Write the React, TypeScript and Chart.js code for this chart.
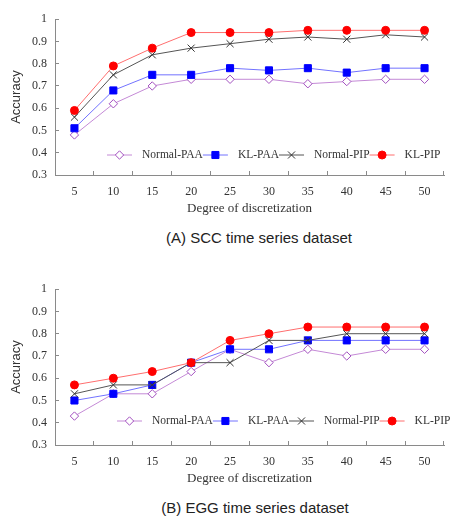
import React, { useEffect, useRef } from 'react';
import { Chart, registerables } from 'chart.js';
import { drawPoint } from 'chart.js/helpers';

Chart.register(...registerables);

const categories = ['5', '10', '15', '20', '25', '30', '35', '40', '45', '50'];
const seriesNames = ['Normal-PAA', 'KL-PAA', 'Normal-PIP', 'KL-PIP'];

const sccNormalPAA = [0.48, 0.62, 0.70, 0.73, 0.73, 0.73, 0.71, 0.72, 0.73, 0.73];
const sccKLPAA = [0.51, 0.68, 0.75, 0.75, 0.78, 0.77, 0.78, 0.76, 0.78, 0.78];
const sccNormalPIP = [0.56, 0.75, 0.84, 0.87, 0.89, 0.91, 0.92, 0.91, 0.93, 0.92];
const sccKLPIP = [0.59, 0.79, 0.87, 0.94, 0.94, 0.94, 0.95, 0.95, 0.95, 0.95];

const eggNormalPAA = [0.43, 0.53, 0.53, 0.63, 0.73, 0.67, 0.73, 0.70, 0.73, 0.73];
const eggKLPAA = [0.50, 0.53, 0.57, 0.67, 0.73, 0.73, 0.77, 0.77, 0.77, 0.77];
const eggNormalPIP = [0.53, 0.57, 0.57, 0.67, 0.67, 0.77, 0.77, 0.80, 0.80, 0.80];
const eggKLPIP = [0.57, 0.60, 0.63, 0.67, 0.77, 0.80, 0.83, 0.83, 0.83, 0.83];

const yMin = 0.3;
const yMax = 1;
const yStep = 0.1;

const xTitle = 'Degree of discretization';
const yTitle = 'Accuracy';

const SERIF = "'Liberation Serif', 'Times New Roman', serif";
const NARROW = "'Liberation Sans Narrow', 'Arial Narrow', 'Liberation Sans', sans-serif";
const AXIS = '#8a8a8a';
const TEXT = '#333333';

const styles = [
  { line: '#c489d6', point: '#a24fbf', fill: '#ffffff', pointStyle: 'rectRot', radius: 4.2 },
  { line: '#7272ff', point: '#0000ff', fill: '#0000ff', pointStyle: 'rect', radius: 5 },
  { line: '#555555', point: '#333333', fill: '#333333', pointStyle: 'crossRot', radius: 5 },
  { line: '#ff6e6e', point: '#ff0000', fill: '#ff0000', pointStyle: 'circle', radius: 4 },
];

function makeDatasets(series: number[][]) {
  return series.map((values, i) => ({
    label: seriesNames[i],
    data: values,
    order: series.length - 1 - i,
    borderColor: styles[i].line,
    borderWidth: 1,
    pointStyle: styles[i].pointStyle,
    pointRadius: styles[i].radius,
    pointBorderColor: styles[i].point,
    pointBackgroundColor: styles[i].fill,
    pointBorderWidth: 1,
    tension: 0,
    fill: false,
  }));
}

function ChartPanel(props: { series: number[][]; legendX: number; legendOffset: number }) {
  const ref = useRef<HTMLCanvasElement | null>(null);
  useEffect(() => {
    if (!ref.current) return;
    const legendPlugin = {
      id: 'insideLegend',
      afterDatasetsDraw(chart: any) {
        const { ctx, chartArea } = chart;
        const y = chartArea.bottom - props.legendOffset;
        let x = props.legendX;
        ctx.save();
        ctx.font = `11.5px ${SERIF}`;
        ctx.textBaseline = 'middle';
        ctx.textAlign = 'left';
        chart.data.datasets.forEach((ds: any) => {
          ctx.strokeStyle = ds.borderColor;
          ctx.lineWidth = 1;
          ctx.beginPath();
          ctx.moveTo(x, y);
          ctx.lineTo(x + 25, y);
          ctx.stroke();
          ctx.fillStyle = ds.pointBackgroundColor;
          ctx.strokeStyle = ds.pointBorderColor;
          ctx.lineWidth = ds.pointBorderWidth;
          drawPoint(ctx, { pointStyle: ds.pointStyle, radius: ds.pointRadius, borderWidth: ds.pointBorderWidth, rotation: 0 } as any, x + 12.5, y);
          ctx.fillStyle = TEXT;
          ctx.fillText(ds.label, x + 35, y);
          x += 35 + ctx.measureText(ds.label).width;
        });
        ctx.restore();
      },
    };
    const chart = new Chart(ref.current, {
      type: 'line',
      data: { labels: categories, datasets: makeDatasets(props.series) as any },
      options: {
        animation: false,
        responsive: false,
        devicePixelRatio: 1,
        layout: { padding: { top: 10, right: 3, bottom: 0, left: 0 } },
        plugins: { legend: { display: false }, tooltip: { enabled: false } },
        scales: {
          x: {
            type: 'category',
            offset: true,
            grid: { offset: true, drawOnChartArea: false, drawTicks: true, tickLength: -4, color: AXIS },
            border: { display: true, color: AXIS, width: 1 },
            ticks: { padding: 14, color: TEXT, font: { family: SERIF, size: 12 }, maxRotation: 0, autoSkip: false },
            title: { display: true, text: xTitle, color: TEXT, font: { family: SERIF, size: 13 }, padding: { top: 0, bottom: 0 } },
            afterFit: (s: any) => { s.height = 41; },
          },
          y: {
            type: 'linear',
            min: yMin,
            max: yMax,
            grid: { drawOnChartArea: false, drawTicks: true, tickLength: -4, color: AXIS },
            border: { display: true, color: AXIS, width: 1 },
            ticks: {
              stepSize: yStep,
              padding: 12,
              color: TEXT,
              font: { family: SERIF, size: 12 },
              callback: (v: any) => String(Number(Number(v).toFixed(1))),
            },
            title: { display: true, text: yTitle, color: TEXT, font: { family: NARROW, size: 13 }, padding: { top: 9, bottom: 0 } },
            afterFit: (s: any) => { s.width = 55; },
          },
        },
      } as any,
      plugins: [legendPlugin as any],
    });
    return () => chart.destroy();
  }, []);
  return <canvas ref={ref} width={450} height={216} style={{ display: 'block', width: 450, height: 216 }} />;
}

const captionStyle: React.CSSProperties = {
  position: 'absolute',
  transform: 'translateX(-50%)',
  whiteSpace: 'nowrap',
  fontFamily: "'Liberation Sans', Arial, sans-serif",
  fontSize: 15,
  lineHeight: '17px',
  color: '#222',
};

export default function App() {
  return (
    <div style={{ position: 'absolute', left: 0, top: 0, width: 450, height: 521, background: '#fff', overflow: 'hidden' }}>
      <div style={{ position: 'absolute', left: 0, top: 0 }}>
        <ChartPanel series={[sccNormalPAA, sccKLPAA, sccNormalPIP, sccKLPIP]} legendX={107} legendOffset={20} />
      </div>
      <div style={{ ...captionStyle, left: 259, top: 229 }}>(A) SCC time series dataset</div>
      <div style={{ position: 'absolute', left: 0, top: 270 }}>
        <ChartPanel series={[eggNormalPAA, eggKLPAA, eggNormalPIP, eggKLPIP]} legendX={117} legendOffset={24} />
      </div>
      <div style={{ ...captionStyle, left: 255, top: 499 }}>(B) EGG time series dataset</div>
    </div>
  );
}
